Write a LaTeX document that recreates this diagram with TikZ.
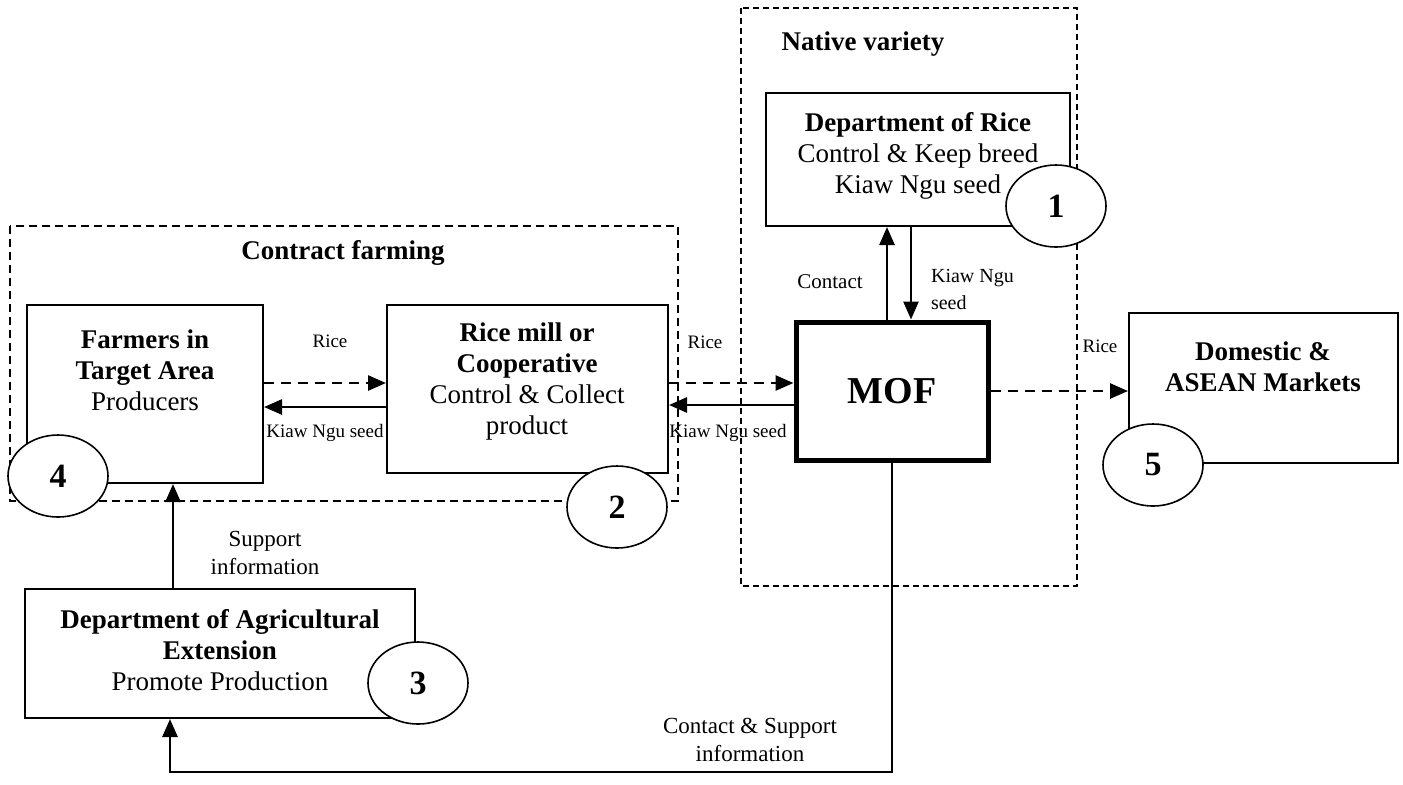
\documentclass[tikz,border=0pt]{standalone}
\usepackage{fontspec}
\setmainfont{Liberation Serif}
\usetikzlibrary{positioning,arrows.meta,shapes.geometric}

\begin{document}
\begin{tikzpicture}[x=0.5pt,y=-0.5pt,
  box/.style={draw,line width=1pt,inner sep=0pt},
  grp/.style={draw,line width=0.6pt,dash pattern=on 3pt off 2pt},
  num/.style={draw,ellipse,fill=white,line width=0.8pt,inner sep=0pt,
    minimum width=50pt,minimum height=41pt,
    font=\fontsize{17}{20}\selectfont\bfseries},
  ttl/.style={align=center,font=\fontsize{13.5}{15.5}\selectfont},
  lbl/.style={align=center,font=\fontsize{11.5}{14}\selectfont},
  sml/.style={align=left,font=\fontsize{9.5}{11.5}\selectfont},
  arr/.style={line width=1.3pt,-{Triangle[length=9pt,width=7.5pt]}},
  darr/.style={arr,dash pattern=on 5pt off 3.5pt}]
\useasboundingbox (0,0) rectangle (1403,784);
% groups
\draw[grp] (741,8) rectangle (1077,586);
\draw[grp,line width=0.9pt,dash pattern=on 4pt off 2.5pt] (10,226) rectangle (678,501);
\node[ttl,font=\fontsize{13.5}{15}\selectfont\bfseries] (native) at (863,44) {Native variety};
\node[ttl,font=\fontsize{13.5}{15}\selectfont\bfseries] (contract) at (343,253) {Contract farming};
% boxes
\node[box,minimum width=152pt,minimum height=66.5pt] (rice) at (918,159.5) {};
\node[box,line width=2.5pt,minimum width=96pt,minimum height=69pt,
  font=\fontsize{19}{22}\selectfont\bfseries] (mof) at (892,391) {MOF};
\node[box,minimum width=118pt,minimum height=89pt] (farm) at (145,394) {};
\node[box,minimum width=140.5pt,minimum height=84pt] (mill) at (527.5,389) {};
\node[box,minimum width=134.5pt,minimum height=75pt] (mkt) at (1263.5,388) {};
\node[box,minimum width=195pt,minimum height=64.5pt] (ext) at (220,653.5) {};
% box texts
\node[ttl,font=\fontsize{13.5}{15.5}\selectfont] (ricet) at (918,156) {\textbf{Department of Rice}\\Control \& Keep breed\\Kiaw Ngu seed};
\node[ttl] (farmt) at (145,370) {\textbf{Farmers in}\\\textbf{Target Area}\\Producers};
\node[ttl] (millt) at (527,381) {\textbf{Rice mill or}\\\textbf{Cooperative}\\Control \& Collect\\product};
\node[ttl] (mktt) at (1263,367) {\textbf{Domestic \&}\\\textbf{ASEAN Markets}};
\node[ttl] (extt) at (220,650) {\textbf{Department of Agricultural}\\\textbf{Extension}\\Promote Production};
% numbers
\node[num] (n1) at (1056,206) {1};
\node[num] (n2) at (617,507) {2};
\node[num] (n3) at (418,683) {3};
\node[num] (n4) at (58,476) {4};
\node[num] (n5) at (1153,465) {5};
% flows
\draw[arr] ([xshift=-2.5pt]mof.north) -- ([xshift=-2.5pt]mof.north |- rice.south);
\draw[arr] ([xshift=9.5pt]mof.north |- rice.south) -- ([xshift=9.5pt]mof.north);
\draw[darr] ([yshift=5.5pt]farm.east) -- ([yshift=5.5pt]farm.east -| mill.west);
\draw[arr] ([yshift=-6.5pt]farm.east -| mill.west) -- ([yshift=-6.5pt]farm.east);
\draw[darr] ([yshift=3pt]mill.east) -- ([yshift=3pt]mill.east -| mof.west);
\draw[arr] ([yshift=-8pt]mill.east -| mof.west) -- ([yshift=-8pt]mill.east);
\draw[darr] (mof.east) -- (mof.east -| mkt.west);
\draw[arr] ([xshift=-23.5pt]ext.north) -- ([xshift=-23.5pt]ext.north |- farm.south);
\coordinate (low) at (0,772);
\draw[arr] (mof.south) |- ([xshift=-25pt]ext.south |- low) -- ([xshift=-25pt]ext.south);
% flow labels
\node[lbl,font=\fontsize{10.5}{12}\selectfont] (lcontact) at (830,282) {Contact};
\node[sml,anchor=west,font=\fontsize{10}{13.5}\selectfont] (lseed1) at (924,289) {Kiaw Ngu\\seed};
\node[sml] (lrice1) at (330,341) {Rice};
\node[sml] (lseed2) at (325,433) {Kiaw Ngu seed};
\node[sml] (lrice2) at (705,342) {Rice};
\node[sml] (lseed3) at (728,433) {Kiaw Ngu seed};
\node[sml] (lrice3) at (1100,346) {Rice};
\node[lbl] (lsupport) at (265,553) {Support\\information};
\node[lbl] (lcontsup) at (750,740) {Contact \& Support\\information};
\end{tikzpicture}
\end{document}
